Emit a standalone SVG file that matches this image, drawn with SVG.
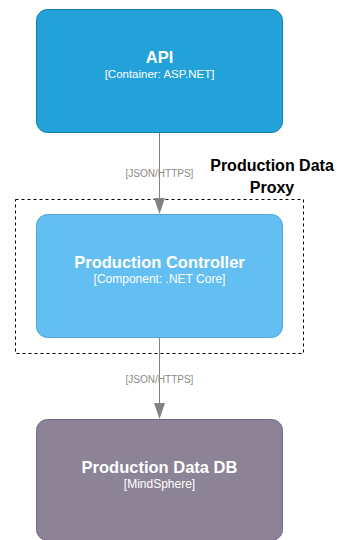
<svg xmlns="http://www.w3.org/2000/svg" width="337" height="540" viewBox="0 0 337 540">
<style>
  .title{font-family:"Liberation Sans",Arial,sans-serif;font-weight:bold;font-size:16.5px;fill:#ffffff;text-anchor:middle}
  .sub{font-family:"Liberation Sans",Arial,sans-serif;font-size:12px;fill:#ffffff;text-anchor:middle}
  .lbl{font-family:"Liberation Sans",Arial,sans-serif;font-size:10px;fill:#8a8a8a;text-anchor:middle}
  .edge{stroke:#828282;stroke-width:1;fill:none}
  .head{fill:#828282}
  .bnd{font-family:"Liberation Sans",Arial,sans-serif;font-weight:bold;font-size:16px;fill:#000000;text-anchor:middle}
</style>
<rect width="337" height="540" fill="#ffffff"/>
<g id="boundary">
  <rect x="15.5" y="199.5" width="288" height="154" fill="none" stroke="#000000" stroke-width="1" stroke-dasharray="3,3"/>
  <text class="bnd" x="272" y="171">Production Data</text>
  <text class="bnd" x="272" y="193">Proxy</text>
</g>
<g id="api">
  <rect x="36.5" y="9.5" width="246" height="123" rx="11" fill="#23a2d9" stroke="#0e7dad" stroke-width="1"/>
  <text class="title" x="159.5" y="63">API</text>
  <text class="sub" x="159.5" y="78" style="font-size:11.5px">[Container: ASP.NET]</text>
</g>
<g id="controller">
  <rect x="36.5" y="214.5" width="246" height="123" rx="11" fill="#63bef2" stroke="#4fa8de" stroke-width="1"/>
  <text class="title" x="159.5" y="268">Production Controller</text>
  <text class="sub" x="159.5" y="283">[Component: .NET Core]</text>
</g>
<g id="db">
  <rect x="36.5" y="419.5" width="246" height="121" rx="11" fill="#8c8496" stroke="#736782" stroke-width="1"/>
  <text class="title" x="159.5" y="473">Production Data DB</text>
  <text class="sub" x="159.5" y="488">[MindSphere]</text>
</g>
<g id="connectors">
  <line class="edge" x1="159.5" y1="133" x2="159.5" y2="200"/>
  <path class="head" d="M154,198 L165,198 L159.5,214 Z"/>
  <text class="lbl" x="159.5" y="177">[JSON/HTTPS]</text>
  <line class="edge" x1="159.5" y1="338" x2="159.5" y2="405"/>
  <path class="head" d="M154,403 L165,403 L159.5,419 Z"/>
  <text class="lbl" x="159.5" y="383">[JSON/HTTPS]</text>
</g>
</svg>
